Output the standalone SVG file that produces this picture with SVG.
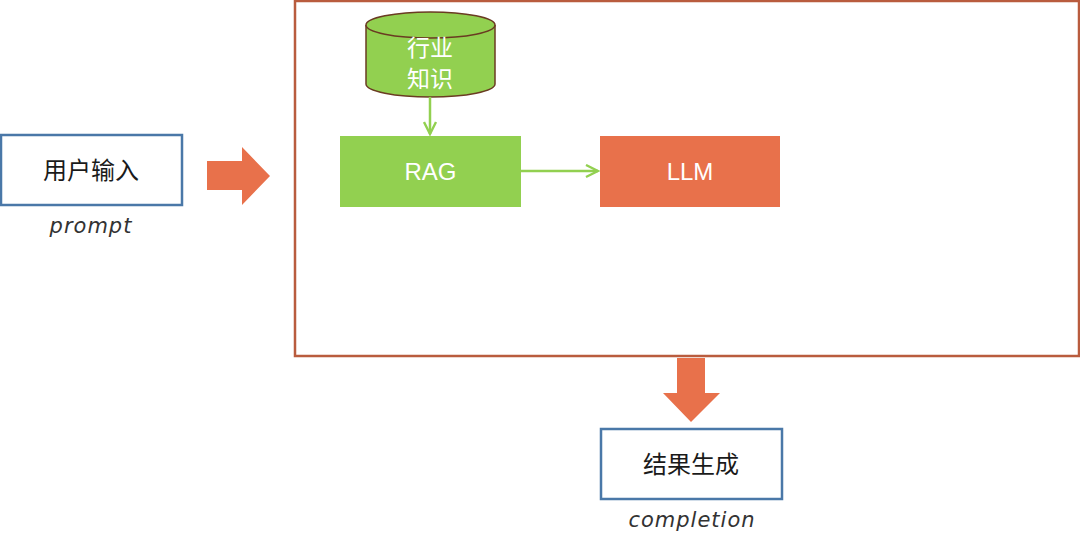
<svg xmlns="http://www.w3.org/2000/svg" width="1080" height="539" viewBox="0 0 1080 539">
<style>
.cn{font-family:"Noto Sans CJK SC","Liberation Sans",sans-serif;}
.lbl{font-family:"Liberation Sans",Arial,sans-serif;}
.hand{font-family:"DejaVu Sans","Noto Sans",sans-serif;font-style:italic;fill:#333;font-size:21px;letter-spacing:1px;}
.blue{fill:#fff;stroke:#4a78a8;stroke-width:2.5;}
.big{fill:#e8714b;}
.conn{stroke:#92d050;stroke-width:2.5;fill:none;}
</style>
<defs>
<marker id="chev" viewBox="0 0 10 10" refX="9" refY="5" markerWidth="6" markerHeight="6" orient="auto" markerUnits="strokeWidth">
<polyline points="1,1 9,5 1,9" fill="none" stroke="#92d050" stroke-width="1.6"/>
</marker>
</defs>
<rect width="1080" height="539" fill="#fff"/>
<g id="container">
<rect x="295" y="1" width="784" height="355" fill="none" stroke="#b95c3e" stroke-width="2.5"/>
</g>
<g id="user-input">
<rect class="blue" x="1" y="135" width="181" height="70"/>
<text class="cn" x="91" y="179" font-size="24" text-anchor="middle" fill="#1a1a1a">用户输入</text>
<text class="hand" x="91" y="233" text-anchor="middle">prompt</text>
</g>
<g id="arrow-in">
<polygon class="big" points="207,161 242,161 242,147 270,176 242,205 242,190 207,190"/>
</g>
<g id="knowledge">
<path d="M366,25 L366,84 A64.5,13 0 0 0 495,84 L495,25" fill="#92d050" stroke="#6a3b22" stroke-width="1.5"/>
<ellipse cx="430.5" cy="25" rx="64.5" ry="13" fill="#92d050" stroke="#6a3b22" stroke-width="1.5"/>
<text class="cn" font-size="23" text-anchor="middle" fill="#fff"><tspan x="430" y="56">行业</tspan><tspan x="430" y="87">知识</tspan></text>
</g>
<g id="rag">
<rect x="340" y="136" width="181" height="71" fill="#92d050"/>
<text class="lbl" x="430.5" y="180" font-size="24" text-anchor="middle" fill="#fff">RAG</text>
</g>
<g id="llm">
<rect x="600" y="136" width="180" height="71" fill="#e8714b"/>
<text class="lbl" x="690" y="180" font-size="24" text-anchor="middle" fill="#fff">LLM</text>
</g>
<g id="connectors">
<line class="conn" x1="430" y1="97" x2="430" y2="134" marker-end="url(#chev)"/>
<line class="conn" x1="521" y1="171" x2="598" y2="171" marker-end="url(#chev)"/>
</g>
<g id="arrow-out">
<polygon class="big" points="677,358 705,358 705,393 720,393 691,422 663,393 677,393"/>
</g>
<g id="result">
<rect class="blue" x="601" y="429" width="181" height="70"/>
<text class="cn" x="691" y="473" font-size="24" text-anchor="middle" fill="#1a1a1a">结果生成</text>
<text class="hand" x="692" y="527" text-anchor="middle">completion</text>
</g>
</svg>
